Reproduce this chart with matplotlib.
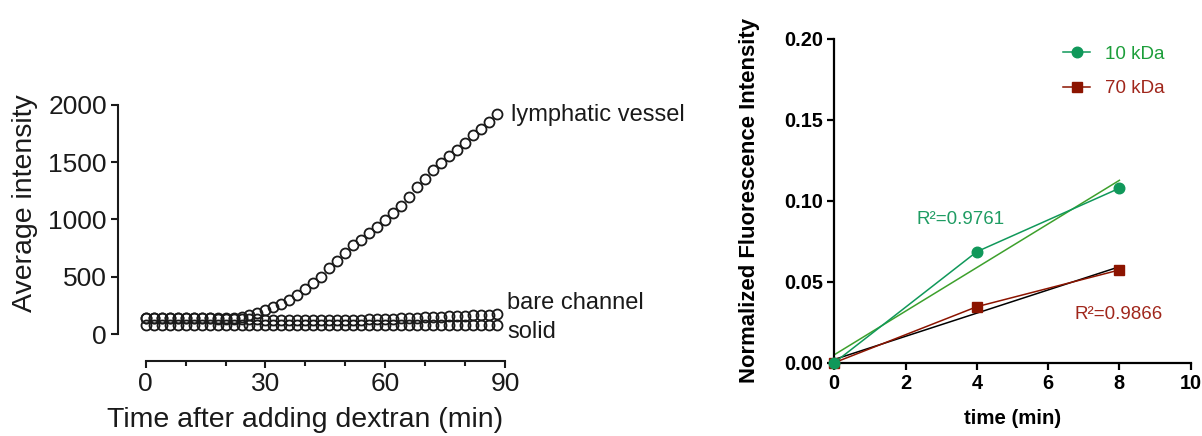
import numpy as np
import matplotlib
matplotlib.use("Agg")
import matplotlib.pyplot as plt
from matplotlib.lines import Line2D

plt.rcParams['font.family'] = ['Liberation Sans', 'DejaVu Sans']

# ---- left panel: average intensity over time ----
time_min = list(range(0, 90, 2))  # 0..88 min, every 2 min

lymphatic = [140, 141, 139, 142, 140, 138, 141, 140, 139, 141, 140, 142,
             146, 166, 186, 210, 235, 265, 298, 337, 390, 443, 497, 575,
             640, 710, 777, 821, 879, 935, 995, 1054, 1118, 1199, 1281, 1351,
             1432, 1496, 1555, 1607, 1665, 1738, 1788, 1855, 1921]
bare_channel = [142, 141, 140, 140, 139, 139, 138, 137, 136, 135, 134, 133,
                131, 129, 127, 125, 124, 123, 122, 122, 122, 122, 122, 122,
                123, 124, 125, 126, 128, 130, 132, 134, 136, 139, 142, 145,
                148, 151, 154, 157, 160, 163, 166, 169, 172]
solid = [80, 80, 79, 80, 80, 79, 80, 80, 80, 79, 80, 80,
         80, 80, 79, 80, 80, 80, 79, 80, 80, 80, 80, 79,
         80, 80, 80, 80, 79, 80, 80, 80, 80, 79, 80, 80,
         80, 80, 79, 80, 80, 80, 80, 79, 80]

left_xticks = [0, 30, 60, 90]
left_xminor = [10, 20, 40, 50, 70, 80]
left_yticks = [0, 500, 1000, 1500, 2000]

# ---- right panel: normalized fluorescence ----
t_right = [0, 4, 8]
kda10 = [0.0, 0.0686, 0.1078]
kda70 = [0.0, 0.0346, 0.0573]
right_xticks = [0, 2, 4, 6, 8, 10]
right_yticks = [0.00, 0.05, 0.10, 0.15, 0.20]
r2_10 = "R\u00b2=0.9761"
r2_70 = "R\u00b2=0.9866"

W, H = 1202, 436
fig = plt.figure(figsize=(W / 100, H / 100), dpi=100)

def px_axes(x0, x1, ytop, ybot):
    return fig.add_axes([x0 / W, (H - ybot) / H, (x1 - x0) / W, (ybot - ytop) / H])

# left panel
ink = '#1a1a1a'
axL = px_axes(145.7, 505.0, 105.0, 334.0)
mk = dict(marker='o', linestyle='none', markersize=7.2, markerfacecolor='none',
          markeredgecolor=ink, markeredgewidth=1.3, clip_on=False)
axL.plot(time_min, solid, **mk)
axL.plot(time_min, bare_channel, **mk)
axL.plot(time_min, lymphatic, **mk)
axL.set_xlim(0, 90)
axL.set_ylim(0, 2000)
for s in ['top', 'right']:
    axL.spines[s].set_visible(False)
axL.spines['left'].set_position(('outward', 20))
axL.spines['bottom'].set_position(('outward', 19.5))
for s in ['left', 'bottom']:
    axL.spines[s].set_linewidth(1.5)
    axL.spines[s].set_color(ink)
axL.set_xticks(left_xticks)
axL.set_xticks(left_xminor, minor=True)
axL.set_yticks(left_yticks)
axL.tick_params(axis='both', which='major', length=5, width=1.5, color=ink,
                labelsize=19, labelcolor=ink, pad=3)
axL.tick_params(axis='x', which='minor', length=3.5, width=1.5, color=ink)
axL.set_xlabel('Time after adding dextran (min)', fontsize=20.5, color=ink, va='center')
axL.xaxis.set_label_coords(0.4448, -0.3755)
axL.set_ylabel('Average intensity', fontsize=20.5, color=ink, va='center')
axL.yaxis.set_label_coords(-0.336, 0.572)
axL.text(91.5, 1913, 'lymphatic vessel', fontsize=17, color=ink, va='center', ha='left')
axL.text(90.6, 271, 'bare channel', fontsize=17, color=ink, va='center', ha='left')
axL.text(90.6, 17, 'solid', fontsize=17, color=ink, va='center', ha='left')

# right panel
green_data = '#10985a'
green_fit = '#3da02c'
green_text = '#1c9e3a'
green_r2 = '#1f9c63'
red_data = '#8c1400'
red_text = '#a0261b'

axR = px_axes(834.3, 1190.7, 39.0, 362.7)
t_fit = np.array([0, 8])
p10 = np.polyfit(t_right, kda10, 1)
p70 = np.polyfit(t_right, kda70, 1)
axR.plot(t_fit, np.polyval(p10, t_fit), color=green_fit, lw=1.1, clip_on=False, zorder=2)
axR.plot(t_fit, np.polyval(p70, t_fit), color='black', lw=1.1, clip_on=False, zorder=2)
axR.plot(t_right, kda70, color=red_data, lw=1.1, marker='s', markersize=7.2,
         clip_on=False, zorder=3)
axR.plot(t_right, kda10, color=green_data, lw=1.1, marker='o', markersize=7.6,
         clip_on=False, zorder=4)
axR.set_xlim(0, 10)
axR.set_ylim(0, 0.2)
for s in ['top', 'right']:
    axR.spines[s].set_visible(False)
for s in ['left', 'bottom']:
    axR.spines[s].set_linewidth(1.6)
axR.set_xticks(right_xticks)
axR.set_yticks(right_yticks)
axR.set_yticklabels([f'{v:.2f}' for v in right_yticks])
axR.tick_params(axis='both', length=5, width=1.6, labelsize=14.3, pad=3)
for lab in axR.get_xticklabels() + axR.get_yticklabels():
    lab.set_fontweight('bold')
axR.set_xlabel('time (min)', fontsize=14.7, fontweight='bold', va='center')
axR.xaxis.set_label_coords(0.5, -0.171)
axR.set_ylabel('Normalized Fluorescence Intensity', fontsize=15.9, fontweight='bold',
               va='center')
axR.yaxis.set_label_coords(-0.2393, 0.5)
axR.text(2.31, 0.0882, r2_10, fontsize=13.5, color=green_r2, va='center', ha='left')
axR.text(6.73, 0.0295, r2_70, fontsize=13.5, color=red_text, va='center', ha='left')

handles = [Line2D([], [], color=green_data, lw=1.1, marker='o', markersize=7.6),
           Line2D([], [], color=red_data, lw=1.1, marker='s', markersize=7.2)]
leg = axR.legend(handles, ['10 kDa', '70 kDa'], loc='upper left',
                 bbox_to_anchor=(0.6417, 0.98), frameon=False, fontsize=13.5,
                 handlelength=1.45, handletextpad=0.8, labelspacing=0.93,
                 borderpad=0, borderaxespad=0)
for txt, c in zip(leg.get_texts(), [green_text, red_text]):
    txt.set_color(c)

fig.savefig('out.png', dpi=100)
